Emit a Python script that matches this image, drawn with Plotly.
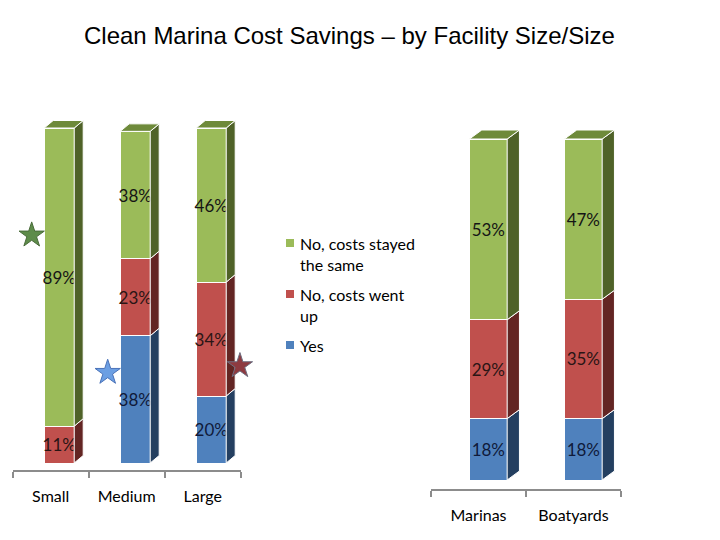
import plotly.graph_objects as go

# ---------------- data ----------------
title = "Clean Marina Cost Savings – by Facility Size/Size"
series_names = ["Yes", "No, costs went<br>up", "No, costs stayed<br>the same"]
size_cats = ["Small", "Medium", "Large"]
size_yes = [0, 38, 20]
size_up = [11, 23, 34]
size_same = [89, 38, 46]
type_cats = ["Marinas", "Boatyards"]
type_yes = [18, 18]
type_up = [29, 35]
type_same = [53, 47]
# star markers (left chart, in axis units)
star_x = [-0.25, 0.75, 2.49]
star_y = [68, 27, 29]

# ---------------- style ----------------
W, H = 720, 540
OX, OY = 8, 8  # page body margin of the html page
front = ["#4F81BD", "#C0504D", "#9BBB59"]
side = ["#243F60", "#632523", "#4F6228"]
top_col = ["#2F5180", "#8B3533", "#6E8A3A"]
txt_col = ["#0f1a3a", "#2a1515", "#151515"]
star_fill = ["#5E8C4A", "#6C9FE3", "#8E3A40"]
star_line = ["#496B3A", "#4A72B8", "#6E6E80"]
label_font = "Lato"


def px(x):
    return (x - OX) / W


def py(y):
    return (H - (y - OY)) / H


# pixel geometry of the two panels
panels = [
    dict(cats=size_cats, vals=[size_yes, size_up, size_same], x0=12.7, x1=240.7,
         zero=463, full=128, axis=470, topy=100, shift=8.5, barw=30, dx=9, dy=7.5,
         xa="x", ya="y"),
    dict(cats=type_cats, vals=[type_yes, type_up, type_same], x0=431, x1=621,
         zero=480, full=139, axis=489, topy=100, shift=9.8, barw=37.7, dx=12.3, dy=9,
         xa="x2", ya="y2"),
]

fig = go.Figure()
layout_axes = {}
for pi, p in enumerate(panels):
    n = len(p["cats"])
    slot = (p["x1"] - p["x0"]) / n
    ppu = (p["zero"] - p["full"]) / 100.0
    width = p["barw"] / slot
    shift = p["shift"] / slot
    dxu = p["dx"] / slot
    dyu = p["dy"] / ppu
    xs = list(range(n))
    # bars
    for si in range(3):
        vals = p["vals"][si]
        fig.add_trace(go.Bar(
            x=xs, y=vals, name=series_names[si], xaxis=p["xa"], yaxis=p["ya"],
            width=width, offset=shift - width / 2,
            marker=dict(color=front[si], line=dict(color="white", width=1)),
            text=[f"{v}%" if v else "" for v in vals], textposition="inside",
            insidetextanchor="middle", constraintext="none", textangle=0,
            textfont=dict(family=label_font, size=17, color=txt_col[si]),
            showlegend=False, hoverinfo="skip"))
    # 3D side and top faces
    for si in range(3):
        sx, sy, tx, ty = [], [], [], []
        for i in range(n):
            base = sum(p["vals"][k][i] for k in range(si))
            v = p["vals"][si][i]
            if v == 0:
                continue
            t = base + v
            xl = i + shift - width / 2
            xr = i + shift + width / 2
            sx += [xr, xr + dxu, xr + dxu, xr, xr, None]
            sy += [base, base + dyu, t + dyu, t, base, None]
            total = sum(p["vals"][k][i] for k in range(3))
            if abs(t - total) < 1e-9:
                tx += [xl, xl + dxu, xr + dxu, xr, xl, None]
                ty += [t, t + dyu, t + dyu, t, t, None]
        for X, Y, c in ((sx, sy, side[si]), (tx, ty, top_col[si])):
            if X:
                fig.add_trace(go.Scatter(x=X, y=Y, xaxis=p["xa"], yaxis=p["ya"],
                                         mode="lines", fill="toself", fillcolor=c,
                                         line=dict(color="white", width=1),
                                         showlegend=False, hoverinfo="skip"))
    ymin = -(p["axis"] - p["zero"]) / ppu
    ymax = (p["zero"] - p["topy"]) / ppu
    sfx = "" if pi == 0 else "2"
    layout_axes["xaxis" + sfx] = dict(
        domain=[px(p["x0"]), px(p["x1"])], range=[-0.5, n - 0.5],
        anchor="y" + sfx, tickvals=xs, ticktext=p["cats"],
        ticks="outside", ticklen=11, tickcolor="rgba(0,0,0,0)",
        showline=True, linecolor="#8C8C8C", linewidth=2,
        showgrid=False, zeroline=False, fixedrange=True,
        tickfont=dict(family=label_font, size=16, color="#000000"),
        minor=dict(tickvals=[k - 0.5 for k in range(n + 1)], ticks="outside",
                   ticklen=6, tickwidth=2, tickcolor="#8C8C8C", showgrid=False))
    layout_axes["yaxis" + sfx] = dict(
        domain=[py(p["axis"]), py(p["topy"])], range=[ymin, ymax],
        anchor="x" + sfx, visible=False, showgrid=False, zeroline=False)

# stars
fig.add_trace(go.Scatter(x=star_x, y=star_y, xaxis="x", yaxis="y", mode="markers",
                         marker=dict(symbol="star", size=19, color=star_fill,
                                     line=dict(color=star_line, width=1)),
                         showlegend=False, hoverinfo="skip", cliponaxis=False))

# manual legend (green, red, blue from top)
leg_rows = [243, 294, 345]
shapes = []
annotations = [dict(text=title, x=px(349), y=py(35), xref="paper", yref="paper",
                    xanchor="center", yanchor="middle", showarrow=False,
                    font=dict(family="Liberation Sans", size=24, color="#000"))]
for row, si in zip(leg_rows, [2, 1, 0]):
    shapes.append(dict(type="rect", xref="paper", yref="paper",
                       x0=px(286), x1=px(294), y0=py(row + 4), y1=py(row - 4),
                       fillcolor=front[si], line=dict(width=0)))
    annotations.append(dict(text=series_names[si], x=px(298), y=py(row - 11),
                            xref="paper", yref="paper", xanchor="left", yanchor="top",
                            align="left", showarrow=False,
                            font=dict(family=label_font, size=16, color="#000")))

fig.update_layout(
    width=W, height=H, margin=dict(l=0, r=0, t=0, b=0),
    paper_bgcolor="white", plot_bgcolor="rgba(0,0,0,0)",
    barmode="stack", showlegend=False,
    shapes=shapes, annotations=annotations,
    **layout_axes)

fig.write_html("out.html")
